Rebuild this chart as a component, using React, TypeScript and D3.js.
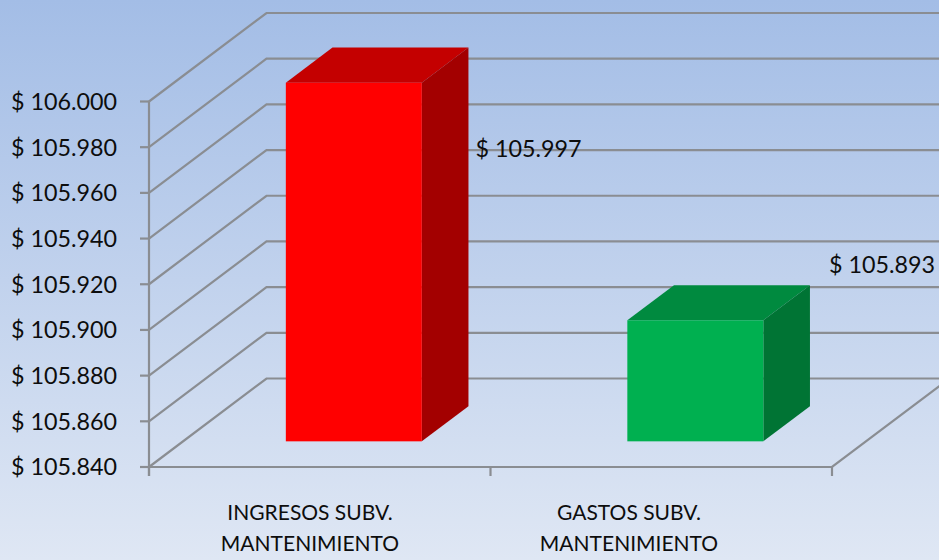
import React from "react";
import * as d3 from "d3";

const categories = ["INGRESOS SUBV.|MANTENIMIENTO", "GASTOS SUBV.|MANTENIMIENTO"];
const values = [105.997, 105.893];
const valueLabels = ["$ 105.997", "$ 105.893"];
const tickValues = [105.84, 105.86, 105.88, 105.9, 105.92, 105.94, 105.96, 105.98, 106.0];
const frontColors = ["#ff0000", "#00b050"];
const topColors = ["#c40000", "#008a3f"];
const sideColors = ["#a30000", "#007434"];

const W = 939;
const H = 560;
const DX = 117.5;
const DY = -88.5;
const FRONT_D = 0.29;
const BACK_D = 0.687;
const WALL_RIGHT = 950;

const labelNudge = [
  { dx: 7, dy: 49 },
  { dx: 19, dy: -73 },
];

const fmt = (v: number) => "$ " + d3.format(".3f")(v);

export default function App() {
  const y = d3.scaleLinear().domain([105.84, 106.0]).range([467, 101.5]);
  const x = d3
    .scaleBand<string>()
    .domain(categories)
    .range([149, 832])
    .paddingInner(0.6018)
    .paddingOuter(0.3009);
  const labelX = d3.scalePoint<string>().domain(categories).range([310, 629]);

  const x0 = 149;
  const x1 = 832;
  const y0 = y(105.84);
  const grid = "#8a8d92";
  const font = "Lato, 'Open Sans', sans-serif";

  return (
    <svg
      width={W}
      height={H}
      style={{ position: "fixed", left: 0, top: 0, display: "block" }}
    >
      <defs>
        <linearGradient id="bg" x1="0" y1="0" x2="0" y2="1">
          <stop offset="0" stopColor="#a3bde6" />
          <stop offset="1" stopColor="#dfe7f4" />
        </linearGradient>
      </defs>
      <rect x={0} y={0} width={W} height={H} fill="url(#bg)" />

      {tickValues.map((t, i) => {
        const yy = y(t);
        return (
          <g key={i}>
            <polyline
              points={`${x0},${yy} ${x0 + DX},${yy + DY} ${WALL_RIGHT},${yy + DY}`}
              fill="none"
              stroke={grid}
              strokeWidth={2.2}
            />
            <line x1={x0 - 9} x2={x0} y1={yy} y2={yy} stroke={grid} strokeWidth={2.2} />
            <text
              x={117}
              y={yy}
              dy="0.36em"
              textAnchor="end"
              fontFamily={font}
              fontSize={23.3}
              fill="#0d0d0d"
            >
              {fmt(t)}
            </text>
          </g>
        );
      })}

      <line x1={x0} x2={x0} y1={y(106.0)} y2={y0 + 9} stroke={grid} strokeWidth={2.2} />
      <polyline
        points={`${x0},${y0} ${x1},${y0} ${x1 + DX},${y0 + DY}`}
        fill="none"
        stroke={grid}
        strokeWidth={2.2}
      />
      {[x0, (x0 + x1) / 2, x1].map((tx, i) => (
        <line key={i} x1={tx} x2={tx} y1={y0} y2={y0 + 9} stroke={grid} strokeWidth={2.2} />
      ))}

      {categories.map((c, i) => {
        const bw = x.bandwidth();
        const fx = (x(c) as number) + DX * FRONT_D;
        const fdy = DY * FRONT_D;
        const ddx = DX * (BACK_D - FRONT_D);
        const ddy = DY * (BACK_D - FRONT_D);
        const top = y(values[i]) + fdy;
        const bot = y0 + fdy;
        const r = fx + bw;
        return (
          <g key={c}>
            <polygon
              points={`${fx},${top} ${r},${top} ${r + ddx},${top + ddy} ${fx + ddx},${top + ddy}`}
              fill={topColors[i]}
            />
            <polygon
              points={`${r},${top} ${r + ddx},${top + ddy} ${r + ddx},${bot + ddy} ${r},${bot}`}
              fill={sideColors[i]}
            />
            <rect x={fx} y={top} width={bw} height={bot - top} fill={frontColors[i]} />
            <text
              x={r + ddx + labelNudge[i].dx}
              y={y(values[i]) + labelNudge[i].dy}
              fontFamily={font}
              fontSize={23.3}
              fill="#0d0d0d"
            >
              {valueLabels[i]}
            </text>
          </g>
        );
      })}

      {categories.map((c) => {
        const lines = c.split("|");
        return (
          <text
            key={c}
            x={labelX(c)}
            textAnchor="middle"
            fontFamily={font}
            fontSize={21}
            fill="#0d0d0d"
          >
            {lines.map((l, j) => (
              <tspan key={j} x={labelX(c)} y={520 + j * 31}>
                {l}
              </tspan>
            ))}
          </text>
        );
      })}
    </svg>
  );
}
